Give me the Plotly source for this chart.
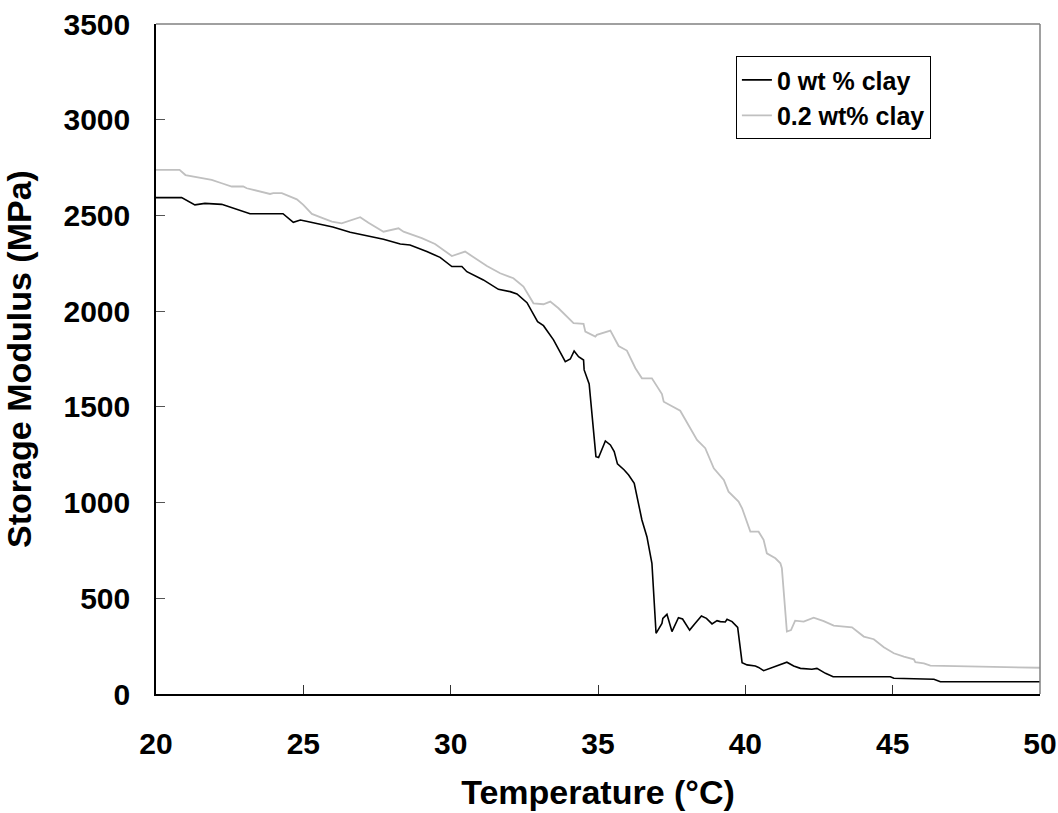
import plotly.graph_objects as go

# 0 wt % clay
temp_0 = [20.0, 20.87, 21.32, 21.66, 22.23, 22.5, 23.19, 23.76, 24.31, 24.66, 24.9, 25.1, 25.68, 26.0,
          26.59, 27.0, 27.72, 28.29, 28.62, 29.19, 29.64, 30.04, 30.38, 30.55, 31.11, 31.62, 32.02, 32.25,
          32.59, 32.95, 33.15, 33.49, 33.89, 34.06, 34.19, 34.34, 34.51, 34.53, 34.70, 34.93, 35.02, 35.25,
          35.42, 35.55, 35.66, 35.89, 36.04, 36.23, 36.49, 36.66, 36.77, 36.83, 36.97, 37.17, 37.2, 37.34,
          37.51, 37.73, 37.87, 38.11, 38.3, 38.51, 38.68, 38.87, 39.04, 39.15, 39.32, 39.38, 39.55, 39.74,
          39.89, 40.06, 40.34, 40.45, 40.62, 41.13, 41.41, 41.64, 41.87, 42.26, 42.43, 42.72, 42.98, 44.92,
          45.04, 46.4, 46.62, 50.0]
mod_0 = [2593, 2593, 2555, 2563, 2558, 2544, 2509, 2509, 2509, 2464, 2476, 2470, 2450, 2440,
         2412, 2400, 2376, 2351, 2346, 2311, 2281, 2233, 2233, 2206, 2163, 2114, 2102, 2090,
         2044, 1945, 1924, 1850, 1736, 1750, 1792, 1762, 1745, 1693, 1620, 1240, 1235, 1322,
         1301, 1266, 1202, 1170, 1144, 1101, 909, 822, 735, 683, 317, 369, 395, 416,
         326, 399, 392, 334, 369, 407, 395, 366, 383, 378, 376, 390, 378, 348,
         164, 152, 146, 139, 122, 152, 166, 146, 134, 129, 134, 108, 90, 90,
         82, 77, 64, 64]

# 0.2 wt% clay
temp_2 = [20.0, 20.8, 21.0, 21.89, 22.23, 22.57, 22.96, 23.08, 23.87, 23.98, 24.27, 24.78, 25.0, 25.29,
          25.68, 25.97, 26.3, 26.59, 26.93, 27.21, 27.72, 28.23, 28.4, 29.02, 29.47, 30.04, 30.26, 30.49,
          31.23, 31.68, 32.13, 32.47, 32.81, 33.15, 33.38, 33.66, 34.17, 34.51, 34.57, 34.91, 34.96, 35.42,
          35.7, 35.98, 36.27, 36.49, 36.83, 37.17, 37.23, 37.57, 37.79, 38.36, 38.64, 38.93, 39.27, 39.43,
          39.77, 39.89, 40.11, 40.17, 40.45, 40.62, 40.73, 41.02, 41.19, 41.24, 41.41, 41.55, 41.69, 41.98,
          42.32, 42.66, 43.0, 43.23, 43.62, 44.02, 44.36, 44.70, 45.04, 45.38, 45.72, 45.77, 46.06, 46.28,
          50.0]
mod_2 = [2738, 2738, 2711, 2686, 2668, 2651, 2651, 2642, 2612, 2616, 2616, 2584, 2555, 2508,
         2485, 2468, 2459, 2473, 2491, 2462, 2415, 2433, 2415, 2381, 2351, 2288, 2299, 2311,
         2236, 2198, 2172, 2128, 2041, 2036, 2050, 2015, 1937, 1933, 1893, 1867, 1876, 1898,
         1818, 1794, 1702, 1649, 1649, 1567, 1527, 1501, 1480, 1327, 1284, 1179, 1118, 1057,
         1005, 970, 874, 848, 848, 805, 735, 709, 683, 657, 326, 334, 383, 378,
         399, 381, 357, 355, 348, 300, 286, 244, 213, 195, 181, 166, 160, 148,
         137]

x_ticks = [20, 25, 30, 35, 40, 45, 50]
y_ticks = [0, 500, 1000, 1500, 2000, 2500, 3000, 3500]

FONT = "Liberation Sans, Arial, sans-serif"

fig = go.Figure()
fig.add_trace(go.Scatter(x=temp_0, y=mod_0, mode="lines", name="0 wt % clay",
                         line=dict(color="#000000", width=1.6)))
fig.add_trace(go.Scatter(x=temp_2, y=mod_2, mode="lines", name="0.2 wt% clay",
                         line=dict(color="#c0c0c0", width=1.8)))

fig.update_layout(
    width=1058, height=813,
    margin=dict(l=156, r=18, t=24, b=119, autoexpand=False),
    paper_bgcolor="white", plot_bgcolor="white",
    font=dict(family=FONT, color="#000000"),
    showlegend=True,
    legend=dict(
        x=0.656, y=0.952, xanchor="left", yanchor="top",
        bgcolor="white", bordercolor="#000000", borderwidth=1,
        font=dict(family=FONT, size=25, color="#000000", weight="bold"),
        tracegroupgap=0, itemwidth=30,
    ),
    xaxis=dict(
        range=[20, 50], tickvals=x_ticks, ticktext=[str(v) for v in x_ticks],
        automargin=False,
        showline=True, linecolor="#000000", linewidth=1.5,
        ticks="inside", ticklen=9, tickwidth=1.2, tickcolor="#333333",
        showgrid=False, zeroline=False,
        tickfont=dict(family=FONT, size=30, color="#000000", weight="bold"),
        ticklabelstandoff=22,
        title=dict(text="Temperature (°C)", standoff=21,
                   font=dict(family=FONT, size=34, color="#000000", weight="bold")),
    ),
    yaxis=dict(
        range=[0, 3500], tickvals=y_ticks, ticktext=[str(v) for v in y_ticks],
        automargin=False,
        showline=True, linecolor="#000000", linewidth=1.5,
        ticks="inside", ticklen=9, tickwidth=1.2, tickcolor="#555555",
        showgrid=False, zeroline=False,
        tickfont=dict(family=FONT, size=30, color="#000000", weight="bold"),
        ticklabelstandoff=18,
        title=dict(text="Storage Modulus (MPa)", standoff=22,
                   font=dict(family=FONT, size=34, color="#000000", weight="bold")),
    ),
    shapes=[
        dict(type="line", xref="paper", yref="paper", x0=0, x1=1, y0=1, y1=1,
             line=dict(color="#808080", width=1.5)),
        dict(type="line", xref="paper", yref="paper", x0=1, x1=1, y0=0, y1=1,
             line=dict(color="#808080", width=1.5)),
    ],
)

fig.write_html("out.html")
